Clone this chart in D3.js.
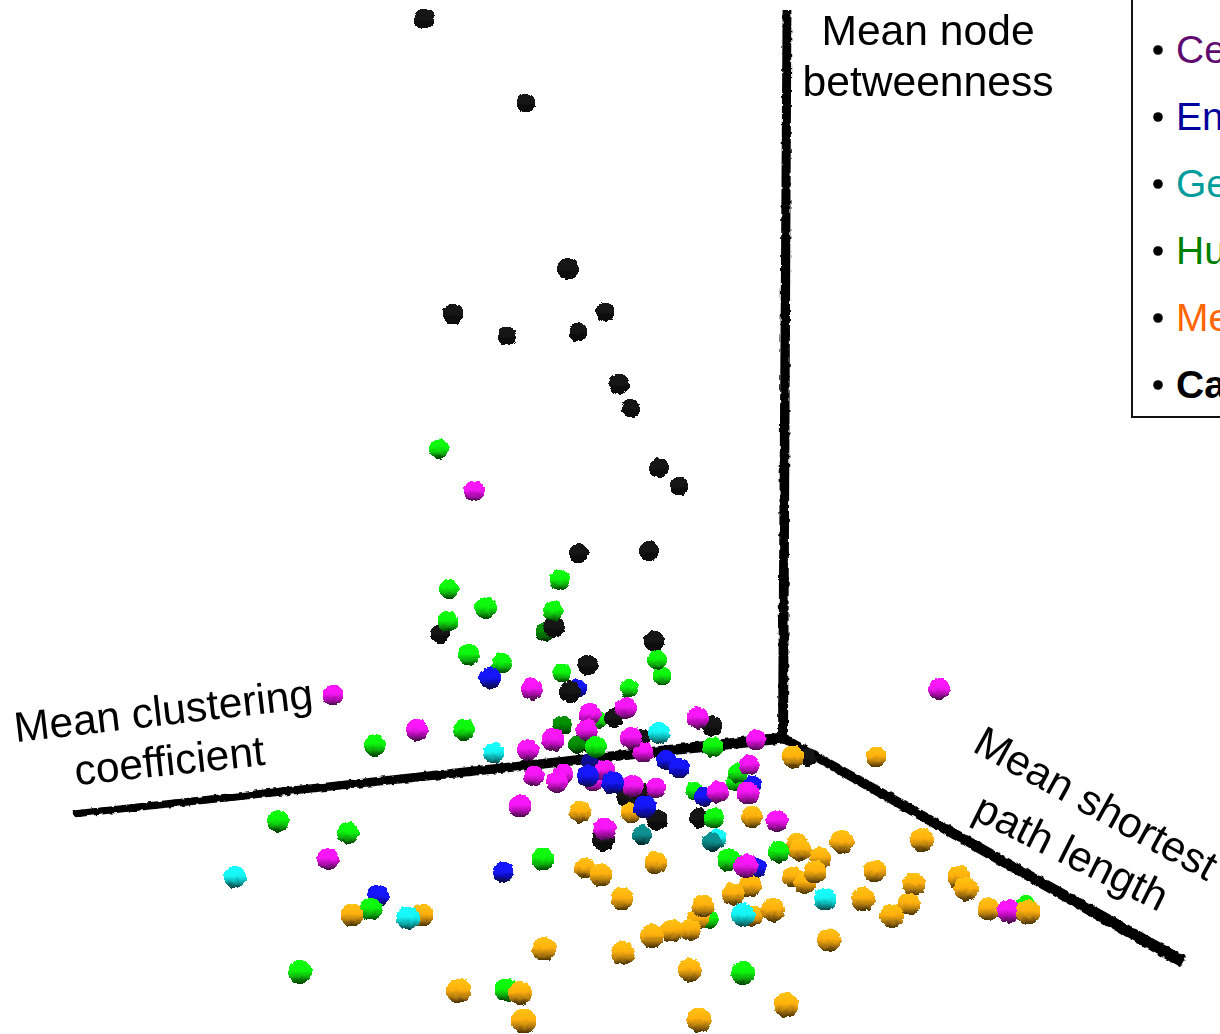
<!DOCTYPE html>
<html>
<head>
<meta charset="utf-8">
<script src="https://cdn.jsdelivr.net/npm/d3@7"></script>
<style>
  html, body { margin: 0; padding: 0; background: #fff; overflow: hidden; }
  text { font-family: "Liberation Sans", Arial, sans-serif; }
</style>
</head>
<body>
<div id="chart"></div>
<script>
// Projected position of each network, relative to the axes origin: [across, up, depth]
// a 4th value of 1 marks a sphere that sits in another sphere's shadow
const ceValues = [[-311,247,5],[-452,43,5],[154,49,6],[-368,8,6],[-253,49,6],[-195,24,6],[-159,30,6],[-198,8,6],
  [-232,-2,7],[-257,-12,6],[-154,0,6],[-142,-14,5],[-87,20,6],[-29,-2,5],[-251,-38,5],[-222,-36,5],[-228,-44,6],
  [-180,-32,5],[-192,-44,3],[-152,-48,6],[-129,-50,5],[-36,-27,5],[-37,-55,7],[-67,-54,6],[-8,-83,6],[-265,-68,7],
  [-180,-91,7],[-457,-121,6],[-39,-128,8],[224,-173,8]];
const enValues = [[-295,60,6],[-207,50,3],[-195,-24,2,1],[-119,-22,4],[-106,-30,5],[-197,-38,6],[-172,-45,7],
  [-140,-69,7],[-81,-59,4],[-33,-47,3],[-29,-130,4],[-282,-134,5],[-407,-158,6]];
const geValues = [[-291,-15,5],[-126,5,6],[-143,-97,4,1],[-73,-104,4,1],[-68,-100,3],[-550,-139,6],[-377,-180,8],
  [-42,-177,8],[40,-161,7]];
const huValues = [[-346,289,4],[-336,149,4],[-299,130,6],[-337,117,5],[-225,158,5],[-232,127,5],[-240,106,3,1],
  [-316,83,6],[-283,75,5],[-223,65,3],[-156,50,3],[-128,78,4],[-123,62,3],[-187,18,2],[-223,13,3,1],[-208,-7,2,1],
  [-189,-9,6],[-72,-9,5],[-410,-7,6],[-321,8,6],[-507,-83,6],[-437,-95,6],[-47,-35,4],[-50,-44,2],[-90,-53,3],
  [-71,-80,5],[-56,-122,7],[-6,-114,6],[-242,-121,7],[-414,-171,7],[-77,-181,5],[-485,-234,8],[-279,-252,7],
  [-42,-235,8],[241,-167,4]];
const meValues = [[8,-19,7],[91,-19,5],[-154,-75,5],[-205,-74,6],[-33,-79,6],[12,-105,5],[15,-112,6],[57,-104,8],
  [137,-102,8],[35,-120,6],[30,-134,7],[8,-139,5],[20,-145,6],[90,-133,7],[129,-146,7],[174,-139,7],[181,-151,8],
  [-35,-148,7],[-52,-156,7],[78,-161,8],[124,-166,7],[107,-178,8],[-12,-172,8],[-32,-178,5],[204,-171,7],[243,-174,9],
  [44,-202,8],[1,-267,9],[-129,-125,7],[-200,-130,5],[-184,-137,7],[-163,-161,7],[-82,-168,7],[-87,-181,6],
  [-95,-192,6],[-113,-193,7],[-133,-198,8],[-162,-215,8],[-95,-232,8],[-241,-211,8],[-326,-253,9],[-265,-255,8],
  [-261,-283,9],[-86,-282,9],[-433,-177,7],[-363,-177,7]];
const caValues = [[-361,719,3],[-259,635,1],[-217,469,4],[-332,424,3],[-278,402,1],[-207,406,1],[-180,426,1],
  [-166,354,3],[-154,330,1],[-126,270,2],[-106,252,1],[-206,185,2],[-136,187,2],[-345,104,2],[-231,111,3.5],
  [-131,97,3],[-197,73,3],[-215,46,4],[-171,20,2],[-202,-4,1],[-143,0,0],[-73,12,3],[-142,-55,2],[-160,-59,1],
  [-150,-67,1],[-128,-82,3],[-86,-80,2],[-182,-102,4],[22,-20,0]];

// Legend entries, cut by the edge of the picture
const legendLabels = ["Ce", "En", "Ge", "Hu", "Me", "Ca"];
const legendColors = ["#5e0a6e", "#00009c", "#009c9c", "#008000", "#ff6600", "#000000"];
const sphereColors = ["#f514f5", "#1414fa", "#14f5f5", "#0cf50c", "#ffb010", "#141414"];
const seriesValues = [ceValues, enValues, geValues, huValues, meValues, caValues];

const axisOrigin = [-2, 0];
const axisEnds = [[2, 728], [-712, -76], [398, -224]];

const svg = d3.select("#chart")
  .append("svg")
    .attr("width", 1220)
    .attr("height", 1034)
    .style("display", "block");

const x = d3.scaleLinear().domain([-785, 435]).range([0, 1220]);
const y = d3.scaleLinear().domain([738, -296]).range([0, 1034]);
const radius = d3.scaleLinear().domain([0, 10]).range([8, 13]);

const defs = svg.append("defs");

// rough edge, the original is a low resolution 3D render
const rough = defs.append("filter")
    .attr("id", "rough")
    .attr("filterUnits", "userSpaceOnUse")
    .attr("x", 0).attr("y", 0).attr("width", 1220).attr("height", 1034);
rough.append("feTurbulence")
    .attr("type", "fractalNoise")
    .attr("baseFrequency", 0.22)
    .attr("numOctaves", 1)
    .attr("seed", 4)
    .attr("result", "noise");
rough.append("feDisplacementMap")
    .attr("in", "SourceGraphic")
    .attr("in2", "noise")
    .attr("scale", 4)
    .attr("xChannelSelector", "R")
    .attr("yChannelSelector", "G");

// sphere shading, lit from above with a dark band along the underside
sphereColors.forEach((c, i) => {
  const g = defs.append("linearGradient")
      .attr("id", "ball" + i)
      .attr("x1", 0).attr("y1", 0).attr("x2", 0).attr("y2", 1);
  g.append("stop").attr("offset", "0%").attr("stop-color", d3.color(c).brighter(0.3));
  g.append("stop").attr("offset", "45%").attr("stop-color", c);
  g.append("stop").attr("offset", "70%").attr("stop-color", d3.color(c).darker(0.9));
  g.append("stop").attr("offset", "90%").attr("stop-color", d3.color(c).darker(2.6));
  g.append("stop").attr("offset", "100%").attr("stop-color", d3.color(c).darker(3.6));
});

// Axes, drawn as tapered bars because of the perspective
const axisWidths = [[4.4, 5], [3.4, 5.6], [6, 4.6]];
svg.append("g")
    .attr("filter", "url(#rough)")
  .selectAll("path")
  .data(axisEnds)
  .join("path")
    .attr("fill", "#000")
    .attr("d", (d, i) => {
      const x0 = x(d[0]), y0 = y(d[1]), x1 = x(axisOrigin[0]), y1 = y(axisOrigin[1]);
      const len = Math.hypot(x1 - x0, y1 - y0);
      const nx = -(y1 - y0) / len, ny = (x1 - x0) / len;
      const [w0, w1] = axisWidths[i];
      return d3.line()([
        [x0 + nx * w0, y0 + ny * w0],
        [x1 + nx * w1, y1 + ny * w1],
        [x1 - nx * w1, y1 - ny * w1],
        [x0 - nx * w0, y0 - ny * w0]
      ]) + "Z";
    });

// Spheres, furthest first so the near ones cover them
const points = seriesValues.flatMap((values, s) => values.map(v => ({
  s: s, x: v[0], y: v[1], depth: v[2], shaded: v[3] === 1
}))).sort((a, b) => a.depth - b.depth);

const balls = svg.append("g")
    .attr("filter", "url(#rough)")
  .selectAll("g")
  .data(points)
  .join("g")
    .attr("transform", d => `translate(${x(d.x)},${y(d.y)})`);

// black spheres have no lit rim, they read larger for the same depth
const ballRadius = d => radius(d.depth) + (d.s === 5 ? 1 : 0);

balls.append("circle")
    .attr("r", ballRadius)
    .attr("shape-rendering", "crispEdges")
    .attr("fill", d => `url(#ball${d.s})`);
balls.filter(d => d.shaded).append("circle")
    .attr("r", ballRadius)
    .attr("shape-rendering", "crispEdges")
    .attr("fill", "#000")
    .attr("fill-opacity", 0.42);

// Axis titles
const labels = [
  { text: "Mean node", x: 928, y: 45, angle: 0 },
  { text: "betweenness", x: 928, y: 96, angle: 0 },
  { text: "Mean clustering", x: 165, y: 725, angle: -6.6 },
  { text: "coefficient", x: 171, y: 775, angle: -6.1 },
  { text: "Mean shortest", x: 1089, y: 816, angle: 29 },
  { text: "path length", x: 1065, y: 865, angle: 26.5 }
];
svg.append("g")
  .selectAll("text")
  .data(labels)
  .join("text")
    .attr("transform", d => `translate(${d.x},${d.y}) rotate(${d.angle})`)
    .attr("text-anchor", "middle")
    .attr("font-size", 42.6)
    .attr("fill", "#000")
    .text(d => d.text);

// Legend, its box runs off the top and right of the picture
svg.append("rect")
    .attr("x", 1132)
    .attr("y", -10)
    .attr("width", 200)
    .attr("height", 427)
    .attr("fill", "#fff")
    .attr("stroke", "#111")
    .attr("stroke-width", 2);

const legendRow = d3.scalePoint().domain(legendLabels).range([63, 398]);

svg.append("g")
  .selectAll("circle")
  .data(legendLabels)
  .join("circle")
    .attr("cx", 1158)
    .attr("cy", d => legendRow(d) - 13)
    .attr("r", 4.8)
    .attr("fill", "#000");

svg.append("g")
  .selectAll("text")
  .data(legendLabels)
  .join("text")
    .attr("x", 1176)
    .attr("y", d => legendRow(d))
    .attr("font-size", 39)
    .attr("font-weight", d => d === "Ca" ? "bold" : "normal")
    .attr("fill", (d, i) => legendColors[i])
    .text(d => d);
</script>
</body>
</html>
